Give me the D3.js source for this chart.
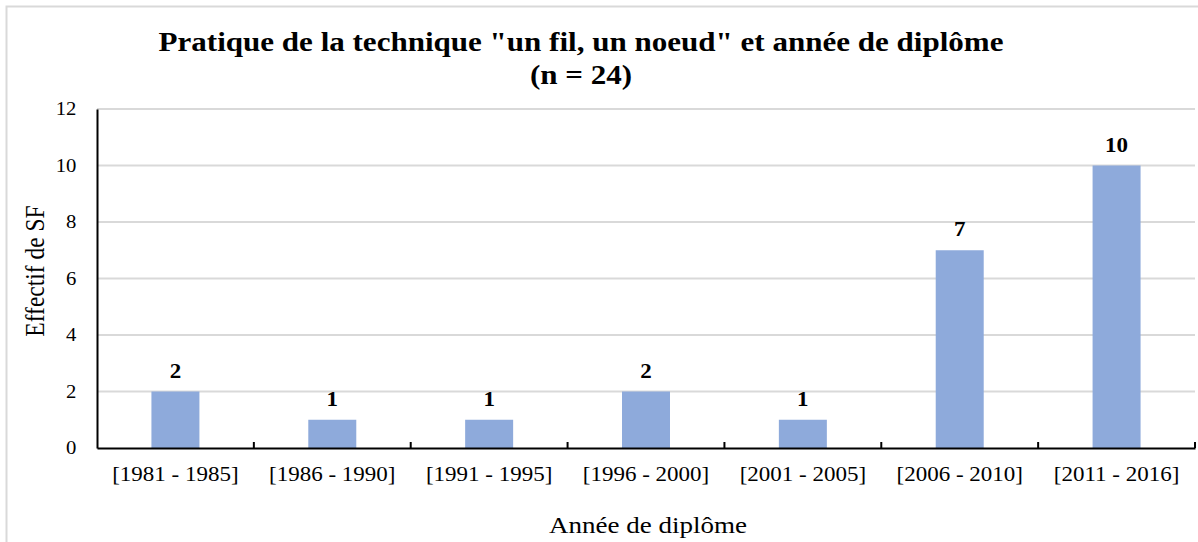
<!DOCTYPE html>
<html>
<head>
<meta charset="utf-8">
<script src="https://cdn.jsdelivr.net/npm/d3@7"></script>
<style>
body { margin: 0; background: #fff; }
text { font-family: "Liberation Serif", "Times New Roman", serif; fill: #000; }
</style>
</head>
<body>
<svg width="1198" height="542"></svg>
<script>
var categories = ["[1981 - 1985]", "[1986 - 1990]", "[1991 - 1995]", "[1996 - 2000]", "[2001 - 2005]", "[2006 - 2010]", "[2011 - 2016]"]
var counts = [2, 1, 1, 2, 1, 7, 10]
var yTicks = [0, 2, 4, 6, 8, 10, 12]

var svg = d3.select("svg")
var margin = {left: 97, right: 1195, top: 109, bottom: 448}
var sx = 1.15  // text in the picture is a bit wider than tall

// outer frame
svg.append("rect")
    .attr("x", 6.5).attr("y", 6.5)
    .attr("width", 1196).attr("height", 560)
    .attr("fill", "none").attr("stroke", "#d9d9d9").attr("stroke-width", 2)

var x = d3.scaleBand().domain(categories).range([margin.left, margin.right]).paddingInner(0).paddingOuter(0)
var y = d3.scaleLinear().domain([0, 12]).range([margin.bottom, margin.top])

// gridlines
svg.append("g").selectAll("line")
    .data(yTicks.filter(function(d) { return d > 0 }))
    .enter().append("line")
    .attr("x1", margin.left).attr("x2", margin.right)
    .attr("y1", function(d) { return y(d) }).attr("y2", function(d) { return y(d) })
    .attr("stroke", "#d9d9d9").attr("stroke-width", 2)

// bars
var bw = x.bandwidth() * 0.306
svg.append("g").selectAll("rect")
    .data(counts)
    .enter().append("rect")
    .attr("x", function(d, i) { return x(categories[i]) + x.bandwidth() / 2 - bw / 2 })
    .attr("y", function(d) { return y(d) })
    .attr("width", bw)
    .attr("height", function(d) { return y(0) - y(d) })
    .attr("fill", "#8eaadb")

// value labels
svg.append("g").selectAll("text")
    .data(counts)
    .enter().append("text")
    .attr("transform", function(d, i) {
        return "translate(" + (x(categories[i]) + x.bandwidth() / 2) + "," + (y(d) - 14) + ") scale(" + sx + ",1)"
    })
    .attr("text-anchor", "middle")
    .attr("font-size", 20).attr("font-weight", "bold")
    .text(function(d) { return d })

// y axis
var yAxis = svg.append("g")
    .attr("transform", "translate(" + margin.left + ",0)")
    .call(d3.axisLeft(y).tickValues(yTicks).tickSize(0).tickPadding(18))
yAxis.select(".domain").attr("stroke", "#000").attr("stroke-width", 2)
yAxis.selectAll("text").attr("font-size", 18)
    .attr("transform", "scale(" + sx + ",1)")
    .style("font-family", "Liberation Serif, serif")

// x axis
var xAxis = svg.append("g")
    .attr("transform", "translate(0," + margin.bottom + ")")
    .call(d3.axisBottom(x).tickSize(0).tickPadding(19))
xAxis.select(".domain").attr("stroke", "#000").attr("stroke-width", 2)
xAxis.selectAll("text").attr("font-size", 20)
    .attr("transform", "scale(" + sx + ",1)")
    .style("font-family", "Liberation Serif, serif")

// tick marks between categories (pointing up)
var bounds = categories.map(function(c) { return x(c) }).slice(1).concat([margin.right])
svg.append("g").selectAll("line")
    .data(bounds)
    .enter().append("line")
    .attr("x1", function(d) { return d }).attr("x2", function(d) { return d })
    .attr("y1", margin.bottom).attr("y2", margin.bottom - 6)
    .attr("stroke", "#000").attr("stroke-width", 2)

// title
svg.append("text")
    .attr("transform", "translate(581,51) scale(" + sx + ",1)")
    .attr("text-anchor", "middle").attr("font-size", 27).attr("font-weight", "bold")
    .text("Pratique de la technique \"un fil, un noeud\" et année de diplôme")
svg.append("text")
    .attr("transform", "translate(581,84) scale(" + sx + ",1)")
    .attr("text-anchor", "middle").attr("font-size", 27).attr("font-weight", "bold")
    .text("(n = 24)")

// axis titles
svg.append("text")
    .attr("transform", "translate(44,271) scale(" + sx + ",1) rotate(-90)")
    .attr("text-anchor", "middle").attr("font-size", 23.5)
    .text("Effectif de SF")
svg.append("text")
    .attr("transform", "translate(648,533) scale(" + sx + ",1)")
    .attr("text-anchor", "middle").attr("font-size", 23.5)
    .text("Année de diplôme")
</script>
</body>
</html>
